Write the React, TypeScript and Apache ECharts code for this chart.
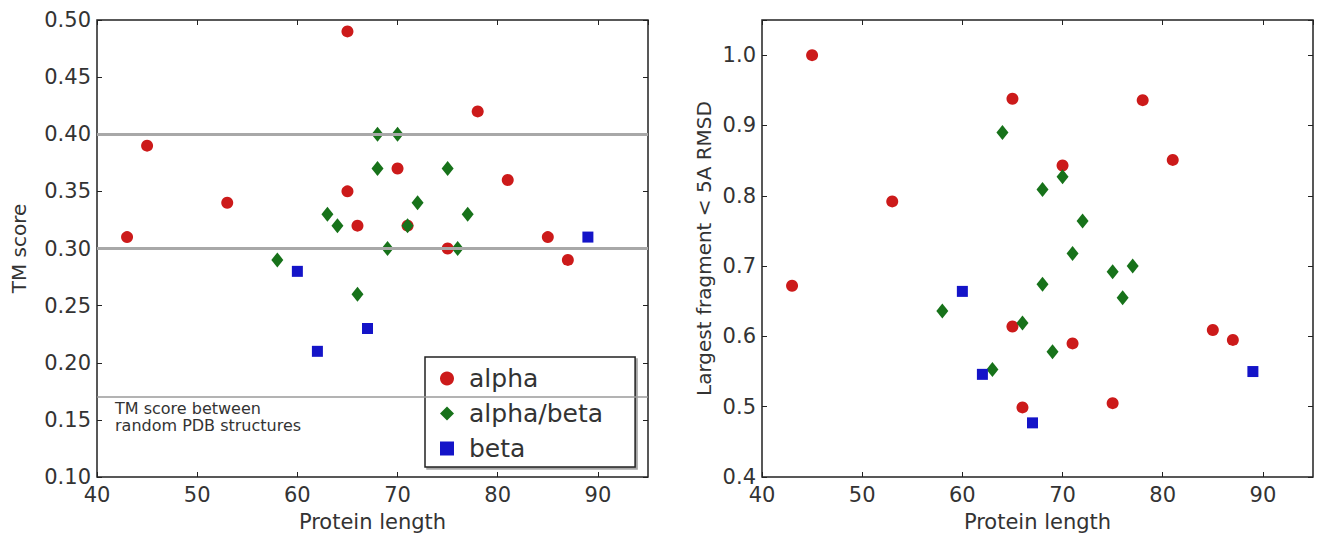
import React, { useEffect, useRef } from "react";
import * as echarts from "echarts";

// ---- data ----
const xTicks = [40, 50, 60, 70, 80, 90];
const tmAlpha = [[43,0.31],[45,0.39],[53,0.34],[65,0.49],[65,0.35],[66,0.32],[70,0.37],[71,0.32],[75,0.30],[78,0.42],[81,0.36],[85,0.31],[87,0.29]];
const tmAlphaBeta = [[58,0.29],[63,0.33],[64,0.32],[66,0.26],[68,0.40],[68,0.37],[69,0.30],[70,0.40],[71,0.32],[72,0.34],[75,0.37],[76,0.30],[77,0.33]];
const tmBeta = [[60,0.28],[62,0.21],[67,0.23],[89,0.31]];
const fragAlpha = [[43,0.672],[45,1.0],[53,0.792],[65,0.938],[65,0.614],[66,0.499],[70,0.843],[71,0.59],[75,0.505],[78,0.936],[81,0.851],[85,0.609],[87,0.595]];
const fragAlphaBeta = [[58,0.636],[63,0.553],[64,0.89],[66,0.619],[68,0.809],[68,0.674],[69,0.578],[70,0.827],[71,0.718],[72,0.764],[75,0.692],[76,0.655],[77,0.70]];
const fragBeta = [[60,0.664],[62,0.546],[67,0.477],[89,0.55]];
const tmRefLines = [0.30, 0.40];
const tmRandomLine = 0.17;
const tmRandomText = "TM score between\nrandom PDB structures";
const legendNames = ["alpha", "alpha/beta", "beta"];

const FONT = "DejaVu Sans";
const TXT = "#333";
const RED = "#cc1a1a";
const GREEN = "#17721a";
const BLUE = "#1414c8";

export default function App() {
  const ref = useRef<HTMLDivElement>(null);
  useEffect(() => {
    const chart = echarts.init(ref.current!, null, { renderer: "svg" });
    const tick = { show: true, inside: true, length: 5, lineStyle: { color: "#222", width: 1 } };
    const mkX = (gi: number, pos: "bottom" | "top", name: string) => ({
      type: "value", gridIndex: gi, position: pos, min: 40, max: 95, interval: 10,
      name: pos === "bottom" ? name : "", nameLocation: "middle", nameGap: 34,
      nameTextStyle: { fontFamily: FONT, fontSize: 21, color: TXT },
      axisLine: { show: false }, axisTick: tick, splitLine: { show: false },
      axisLabel: { show: pos === "bottom", showMaxLabel: false, margin: 7, fontFamily: FONT, fontSize: 21, color: TXT,
        formatter: (v: number) => (xTicks.includes(Math.round(v)) ? String(Math.round(v)) : "") },
    });
    const mkY = (gi: number, pos: "left" | "right", min: number, max: number, interval: number, dec: number, name: string, gap: number) => ({
      type: "value", gridIndex: gi, position: pos, min, max, interval,
      name: pos === "left" ? name : "", nameLocation: "middle", nameGap: gap,
      nameTextStyle: { fontFamily: FONT, fontSize: 20, color: TXT },
      axisLine: { show: false }, axisTick: tick, splitLine: { show: false },
      axisLabel: { show: pos === "left", margin: 6, fontFamily: FONT, fontSize: 21, color: TXT,
        formatter: (v: number) => {
          const k = Math.round((v - min) / interval);
          return Math.abs(min + k * interval - v) < 1e-6 ? v.toFixed(dec) : "";
        } },
    });
    const sc = (name: string, data: number[][], xi: number, yi: number, symbol: string, size: any, color: string, z: number, extra: any = {}) => ({
      type: "scatter", name, data, xAxisIndex: xi, yAxisIndex: yi, symbol, symbolSize: size,
      itemStyle: { color, opacity: 1 }, z, ...extra,
    });
    const markLine = {
      silent: true, symbol: "none", animation: false,
      data: [
        ...tmRefLines.map((v) => ({ yAxis: v, lineStyle: { color: "#a8a8a8", width: 3, type: "solid" }, label: { show: false } })),
        { yAxis: tmRandomLine, lineStyle: { color: "#9a9a9a", width: 1.5, type: "solid" },
          label: { show: true, position: "insideStartBottom", formatter: tmRandomText, fontFamily: FONT, fontSize: 16,
            lineHeight: 17, color: TXT, align: "left", distance: [18, 3] } },
      ],
    };
    chart.setOption({
      animation: false,
      grid: [
        { left: 97, right: 673, top: 20, bottom: 59, show: true, borderColor: "#222", borderWidth: 1.5, backgroundColor: "#fff" },
        { left: 762, right: 8, top: 20, bottom: 59, show: true, borderColor: "#222", borderWidth: 1.5, backgroundColor: "#fff" },
      ],
      xAxis: [mkX(0, "bottom", "Protein length"), mkX(0, "top", ""), mkX(1, "bottom", "Protein length"), mkX(1, "top", "")],
      yAxis: [
        mkY(0, "left", 0.1, 0.5, 0.05, 2, "TM score", 68),
        mkY(0, "right", 0.1, 0.5, 0.05, 2, "", 0),
        mkY(1, "left", 0.4, 1.05, 0.1, 1, "Largest fragment < 5A RMSD", 48),
        mkY(1, "right", 0.4, 1.05, 0.1, 1, "", 0),
      ],
      legend: {
        data: [
          { name: legendNames[0], icon: "circle" },
          { name: legendNames[1], icon: "diamond" },
          { name: legendNames[2], icon: "rect" },
        ],
        orient: "vertical", left: 425, top: 357,
        itemWidth: 14, itemHeight: 14, itemGap: 10,
        padding: [9, 32, 6, 15],
        borderColor: "#222", borderWidth: 1.5, backgroundColor: "#fff",
        shadowColor: "rgba(0,0,0,0.35)", shadowOffsetX: 2, shadowOffsetY: 2,
        textStyle: { fontFamily: FONT, fontSize: 25, color: TXT, padding: [0, 0, 0, 10] },
        selectedMode: false,
      },
      series: [
        sc("alpha", tmAlpha, 0, 0, "circle", 12, RED, 3, { markLine }),
        sc("alpha/beta", tmAlphaBeta, 0, 0, "diamond", [12, 15], GREEN, 4),
        sc("beta", tmBeta, 0, 0, "rect", 11, BLUE, 5),
        sc("alpha", fragAlpha, 2, 2, "circle", 12, RED, 3),
        sc("alpha/beta", fragAlphaBeta, 2, 2, "diamond", [12, 15], GREEN, 4),
        sc("beta", fragBeta, 2, 2, "rect", 11, BLUE, 5),
      ],
    });
    return () => chart.dispose();
  }, []);
  return <div ref={ref} style={{ position: "absolute", left: 0, top: 0, width: 1321, height: 537, background: "#fff" }} />;
}
